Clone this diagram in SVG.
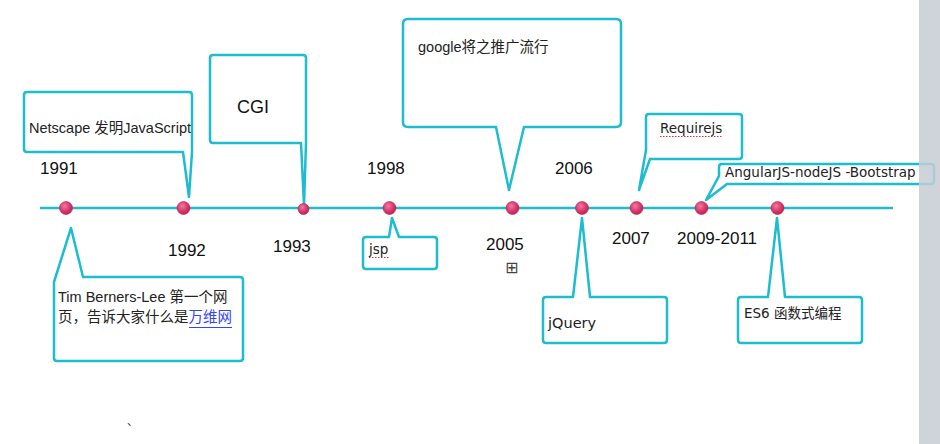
<svg xmlns="http://www.w3.org/2000/svg" width="940" height="444" viewBox="0 0 940 444">
<defs>
<radialGradient id="dotg" cx="0.4" cy="0.35" r="0.7">
<stop offset="0" stop-color="#f27a9e"/>
<stop offset="0.6" stop-color="#d7356a"/>
<stop offset="1" stop-color="#b8204f"/>
</radialGradient>
<style>
.call{fill:#ffffff;stroke:#1dbccf;stroke-width:2.5;stroke-linejoin:round}
.tl{stroke:#1dbccf;stroke-width:2.5;fill:none}
.dot{fill:url(#dotg);stroke:#b8204f;stroke-width:0.6}
.yr{font-family:"Liberation Sans",Arial,sans-serif;font-size:17px;fill:#111}
.hv{font-family:"Liberation Sans",Arial,"Noto Sans CJK SC",sans-serif;font-size:14.5px;fill:#222}
.dv{font-family:"DejaVu Sans",Verdana,"Noto Sans CJK SC",sans-serif;font-size:13.5px;fill:#222}
.spell{stroke:#e03030;stroke-width:1.2;stroke-dasharray:1.5 1.5;fill:none}
</style>
</defs>
<rect width="940" height="444" fill="#ffffff"/>

<g id="connectors">
<line class="tl" x1="40" y1="208" x2="893" y2="208"/>
</g>

<g id="node-netscape">
<path class="call" d="M27,92 H189 Q192,92 192,95 V152 L189,197 L183,152 H27 Q24,152 24,149 V95 Q24,92 27,92 Z"/>
<text class="hv" x="29" y="133">Netscape 发明JavaScript</text>
</g>

<g id="node-cgi">
<path class="call" d="M213,55 H303 Q306,55 306,58 V143 L304,205 L301,143 H213 Q210,143 210,140 V58 Q210,55 213,55 Z"/>
<text class="yr" style="font-size:18px" x="237" y="113">CGI</text>
</g>

<g id="node-google">
<path class="call" d="M408,19 H616 Q621,19 621,24 V122 Q621,127 616,127 H524 L509,190 L496,127 H408 Q403,127 403,122 V24 Q403,19 408,19 Z"/>
<text class="hv" x="418" y="52">google将之推广流行</text>
</g>

<g id="node-requirejs">
<path class="call" d="M649,114 H739 Q742,114 742,117 V156 Q742,159 739,159 H650 L639,190 L646,150 V117 Q646,114 649,114 Z"/>
<text class="dv" x="660" y="133">Requirejs</text>
<line class="spell" x1="660" y1="136.5" x2="722" y2="136.5"/>
</g>

<g id="node-angular">
<path class="call" d="M722,164 H931 Q934,164 934,167 V181 Q934,184 931,184 H727 L706,200 L719,176 V167 Q719,164 722,164 Z"/>
<text class="dv" x="725" y="177">AngularJS-nodeJS -Bootstrap</text>
</g>

<g id="node-tim">
<path class="call" d="M83,277 H240 Q243,277 243,280 V358 Q243,361 240,361 H57 Q54,361 54,358 V282 L71,228 Z"/>
<text class="hv" x="58" y="302">Tim Berners-Lee 第一个网</text>
<text class="hv" x="58" y="322">页，告诉大家什么是<tspan fill="#3344ff">万维网</tspan></text>
<line x1="189" y1="327.5" x2="232" y2="327.5" stroke="#3344ff" stroke-width="1"/>
</g>

<g id="node-jsp">
<path class="call" d="M366,237 H389 L392,218 L399,237 H434 Q437,237 437,240 V266 Q437,269 434,269 H366 Q363,269 363,266 V240 Q363,237 366,237 Z"/>
<text class="dv" x="369" y="254">jsp</text>
<line class="spell" x1="369" y1="257.5" x2="390" y2="257.5"/>
</g>

<g id="node-jquery">
<path class="call" d="M546,297 H573 L582,218 L590,297 H664 Q667,297 667,300 V340 Q667,343 664,343 H546 Q543,343 543,340 V300 Q543,297 546,297 Z"/>
<text class="dv" style="font-size:14.5px" x="548" y="328">jQuery</text>
</g>

<g id="node-es6">
<path class="call" d="M741,297 H768 L777,218 L785,297 H859 Q862,297 862,300 V340 Q862,343 859,343 H741 Q738,343 738,340 V300 Q738,297 741,297 Z"/>
<text class="dv" x="744" y="318">ES6 函数式编程</text>
</g>

<g id="dots">
<circle class="dot" cx="66" cy="208" r="6.5"/>
<circle class="dot" cx="183.5" cy="208" r="6.5"/>
<circle class="dot" cx="303.5" cy="209" r="5.5"/>
<circle class="dot" cx="389.5" cy="208" r="6.5"/>
<circle class="dot" cx="512.5" cy="208" r="6.5"/>
<circle class="dot" cx="582" cy="208" r="6.5"/>
<circle class="dot" cx="636.5" cy="208" r="6.5"/>
<circle class="dot" cx="701.5" cy="208" r="6.5"/>
<circle class="dot" cx="777.5" cy="208" r="6.5"/>
</g>

<g id="years">
<text class="yr" x="40" y="174">1991</text>
<text class="yr" x="168" y="256">1992</text>
<text class="yr" x="273" y="252">1993</text>
<text class="yr" x="367" y="174">1998</text>
<text class="yr" x="486" y="250">2005</text>
<text class="yr" x="555" y="174">2006</text>
<text class="yr" x="612" y="244">2007</text>
<text class="yr" x="677" y="244">2009-2011</text>
<text x="505" y="273" font-family="DejaVu Sans,sans-serif" font-size="16" fill="#444">⊞</text>
<text x="127" y="425" font-family="Noto Sans CJK SC,sans-serif" font-size="11" fill="#333">、</text>
</g>

<rect x="919" y="0" width="21" height="444" fill="#c6ccd4" opacity="0.85"/>
</svg>
